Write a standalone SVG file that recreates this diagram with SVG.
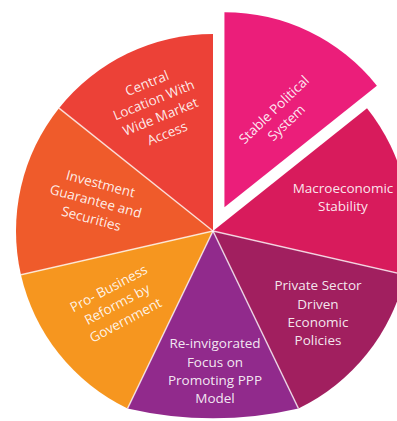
<svg xmlns="http://www.w3.org/2000/svg" width="397" height="421" viewBox="0 0 397 421">
<style>
.lbl{font-family:"Open Sans","Noto Sans","Liberation Sans",sans-serif;font-size:13.5px;fill:#fff;fill-opacity:.9;text-anchor:middle}
.sep{stroke:#fff;stroke-opacity:.75;stroke-width:1.5;fill:none}
</style>
<rect width="397" height="421" fill="#fff"/>
<g id="central">
<path d="M213,231 L58.98,108.17 A197,197 0 0 1 213,34 Z" fill="#EC4137"/>
<g transform="translate(157,108) rotate(-22)">
<text class="lbl" y="-22">Central</text>
<text class="lbl" y="-4">Location With</text>
<text class="lbl" y="14">Wide Market</text>
<text class="lbl" y="32">Access</text>
</g>
</g>
<g id="investment">
<path d="M213,231 L20.94,274.84 A197,197 0 0 1 58.98,108.17 Z" fill="#EF5B2B"/>
<g transform="translate(96,201) rotate(15)">
<text class="lbl" y="-13">Investment</text>
<text class="lbl" y="5">Guarantee and</text>
<text class="lbl" y="23">Securities</text>
</g>
</g>
<g id="probusiness">
<path d="M213,231 L127.53,408.49 A197,197 0 0 1 20.94,274.84 Z" fill="#F6961F"/>
<g transform="translate(117,304) rotate(-28)">
<text class="lbl" y="-13">Pro- Business</text>
<text class="lbl" y="5">Reforms by</text>
<text class="lbl" y="23">Government</text>
</g>
</g>
<g id="ppp">
<path d="M213,231 L298.47,408.49 A380,380 0 0 1 127.53,408.49 Z" fill="#912A8C"/>
<text class="lbl" x="215" y="348">Re-invigorated</text>
<text class="lbl" x="215" y="366.5">Focus on</text>
<text class="lbl" x="215" y="385">Promoting PPP</text>
<text class="lbl" x="215" y="403">Model</text>
</g>
<g id="private">
<path d="M213,231 L405.06,274.84 A197,197 0 0 1 298.47,408.49 Z" fill="#A11F5F"/>
<text class="lbl" x="318" y="290">Private Sector</text>
<text class="lbl" x="318" y="308.5">Driven</text>
<text class="lbl" x="318" y="327">Economic</text>
<text class="lbl" x="318" y="345">Policies</text>
</g>
<g id="macro">
<path d="M213,231 L367.02,108.17 A197,197 0 0 1 405.06,274.84 Z" fill="#D81B5C"/>
<text class="lbl" x="343" y="193">Macroeconomic</text>
<text class="lbl" x="343" y="211">Stability</text>
</g>
<g id="stable">
<path d="M224.45,207.22 L224.45,12.22 A195,195 0 0 1 376.91,85.64 Z" fill="#EB1E7A"/>
<g transform="translate(280,116) rotate(-44)">
<text class="lbl" y="-4">Stable Political</text>
<text class="lbl" y="14">System</text>
</g>
</g>
<g id="separators">
<line class="sep" x1="213" y1="231" x2="58.98" y2="108.17"/>
<line class="sep" x1="213" y1="231" x2="20.94" y2="274.84"/>
<line class="sep" x1="213" y1="231" x2="127.53" y2="408.49"/>
<line class="sep" x1="213" y1="231" x2="298.47" y2="408.49"/>
<line class="sep" x1="213" y1="231" x2="405.06" y2="274.84"/>
</g>
</svg>
